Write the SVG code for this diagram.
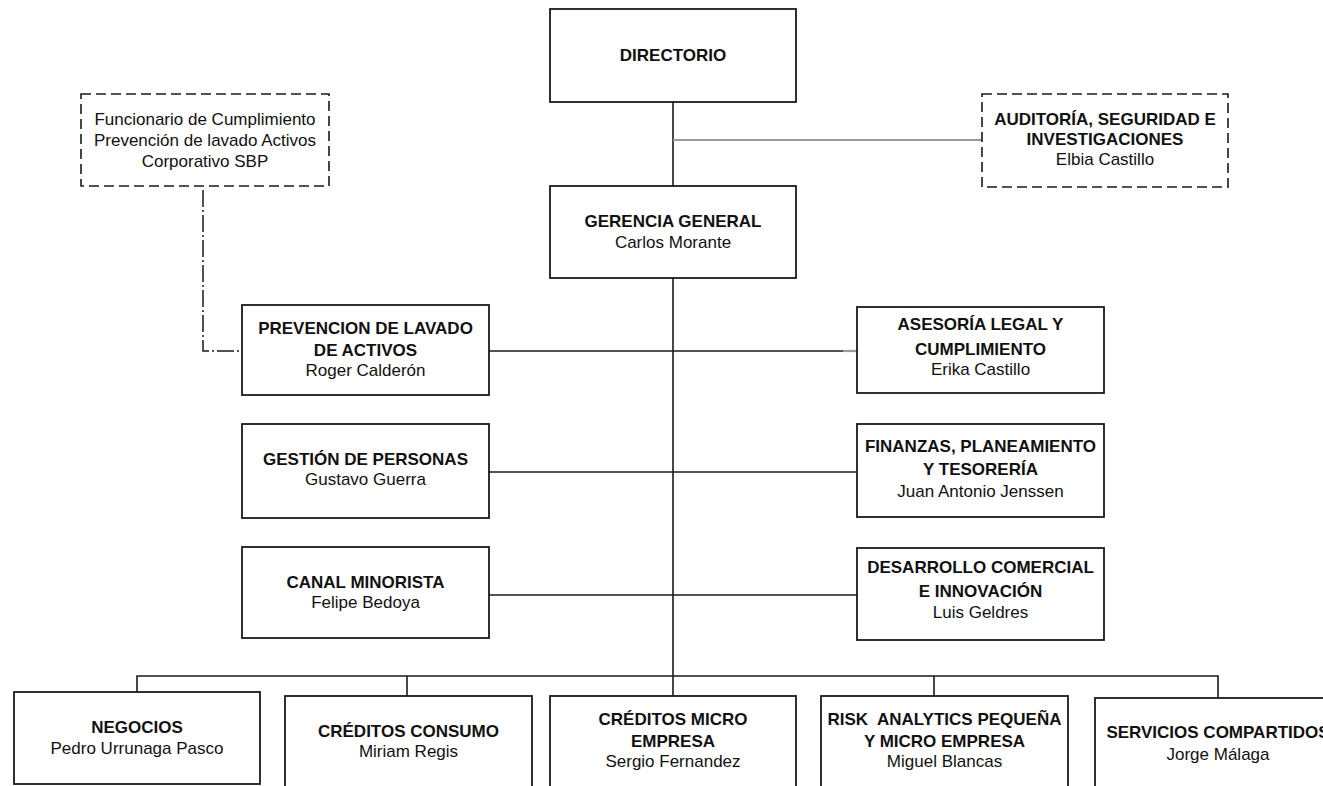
<svg xmlns="http://www.w3.org/2000/svg" width="1323" height="786" viewBox="0 0 1323 786">
<style>
.box{fill:#fff;stroke:#1a1a1a;stroke-width:1.8}
.dbox{fill:#fff;stroke:#1a1a1a;stroke-width:1.6;stroke-dasharray:10 5}
.ln{stroke:#1a1a1a;stroke-width:1.6;fill:none}
.gl{stroke:#9a9a9a;stroke-width:2.2;fill:none}
.dd{stroke:#1a1a1a;stroke-width:1.5;fill:none;stroke-dasharray:17 3 2 3}
text{font-family:"Liberation Sans",Arial,sans-serif;font-size:17px;fill:#111;text-anchor:middle}
.b{font-weight:bold}
</style>
<rect width="1323" height="786" fill="#fff"/>
<g id="connectors">
<line class="ln" x1="673" y1="102" x2="673" y2="186"/>
<line class="gl" x1="673" y1="140" x2="982" y2="140"/>
<line class="ln" x1="673" y1="278" x2="673" y2="696"/>
<line class="ln" x1="489" y1="351" x2="843" y2="351"/>
<line class="gl" x1="843" y1="351" x2="857" y2="351"/>
<line class="ln" x1="489" y1="472" x2="857" y2="472"/>
<line class="ln" x1="489" y1="595" x2="857" y2="595"/>
<polyline class="ln" points="137,692 137,676 1218,676 1218,698"/>
<line class="ln" x1="407" y1="676" x2="407" y2="696"/>
<line class="ln" x1="934" y1="676" x2="934" y2="696"/>
<polyline class="dd" points="203,190 203,351 242,351"/>
</g>
<g id="directorio"><rect class="box" x="550" y="9" width="246" height="93"/><text class="b" x="673" y="61">DIRECTORIO</text></g>
<g id="gerencia"><rect class="box" x="550" y="186" width="246" height="92"/><text class="b" x="673" y="227">GERENCIA GENERAL</text><text x="673" y="248">Carlos Morante</text></g>
<g id="funcionario"><rect class="dbox" x="81" y="94" width="248" height="92"/><text x="205" y="125">Funcionario de Cumplimiento</text><text x="205" y="146">Prevención de lavado Activos</text><text x="205" y="167">Corporativo SBP</text></g>
<g id="auditoria"><rect class="dbox" x="982" y="94" width="246" height="93"/><text class="b" x="1105" y="125">AUDITORÍA, SEGURIDAD E</text><text class="b" x="1105" y="145">INVESTIGACIONES</text><text x="1105" y="165">Elbia Castillo</text></g>
<g id="prevencion"><rect class="box" x="242" y="305" width="247" height="90"/><text class="b" x="365.5" y="334">PREVENCION DE LAVADO</text><text class="b" x="365.5" y="356">DE ACTIVOS</text><text x="365.5" y="376">Roger Calderón</text></g>
<g id="gestion"><rect class="box" x="242" y="424" width="247" height="94"/><text class="b" x="365.5" y="465">GESTIÓN DE PERSONAS</text><text x="365.5" y="485">Gustavo Guerra</text></g>
<g id="canal"><rect class="box" x="242" y="547" width="247" height="91"/><text class="b" x="365.5" y="588">CANAL MINORISTA</text><text x="365.5" y="608">Felipe Bedoya</text></g>
<g id="asesoria"><rect class="box" x="857" y="307" width="247" height="86"/><text class="b" x="980.5" y="330">ASESORÍA LEGAL Y</text><text class="b" x="980.5" y="355">CUMPLIMIENTO</text><text x="980.5" y="375">Erika Castillo</text></g>
<g id="finanzas"><rect class="box" x="857" y="424" width="247" height="93"/><text class="b" x="980.5" y="452">FINANZAS, PLANEAMIENTO</text><text class="b" x="980.5" y="475">Y TESORERÍA</text><text x="980.5" y="497">Juan Antonio Jenssen</text></g>
<g id="desarrollo"><rect class="box" x="857" y="548" width="247" height="92"/><text class="b" x="980.5" y="573">DESARROLLO COMERCIAL</text><text class="b" x="980.5" y="597">E INNOVACIÓN</text><text x="980.5" y="618">Luis Geldres</text></g>
<g id="negocios"><rect class="box" x="14" y="692" width="246" height="92"/><text class="b" x="137" y="733">NEGOCIOS</text><text x="137" y="754">Pedro Urrunaga Pasco</text></g>
<g id="consumo"><rect class="box" x="285" y="696" width="247" height="96"/><text class="b" x="408.5" y="737">CRÉDITOS CONSUMO</text><text x="408.5" y="757">Miriam Regis</text></g>
<g id="micro"><rect class="box" x="550" y="696" width="246" height="96"/><text class="b" x="673" y="725">CRÉDITOS MICRO</text><text class="b" x="673" y="747">EMPRESA</text><text x="673" y="767">Sergio Fernandez</text></g>
<g id="risk"><rect class="box" x="821" y="696" width="247" height="96"/><text class="b" x="944.5" y="725" xml:space="preserve">RISK  ANALYTICS PEQUEÑA</text><text class="b" x="944.5" y="747">Y MICRO EMPRESA</text><text x="944.5" y="767">Miguel Blancas</text></g>
<g id="servicios"><rect class="box" x="1095" y="698" width="246" height="96"/><text class="b" x="1218" y="738">SERVICIOS COMPARTIDOS</text><text x="1218" y="760">Jorge Málaga</text></g>
</svg>
